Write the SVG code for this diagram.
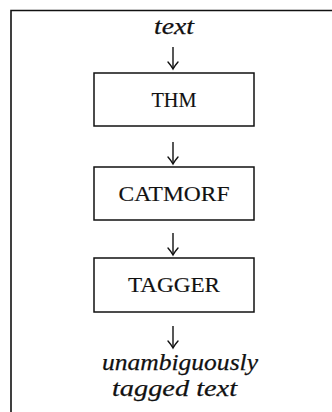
<svg xmlns="http://www.w3.org/2000/svg" width="332" height="412" viewBox="0 0 332 412">
  <style>
    .frame { fill: none; stroke: #111; stroke-width: 1.6; }
    .box { fill: #fff; stroke: #111; stroke-width: 1.5; }
    .label { font-family: "Liberation Serif", "Times New Roman", serif; font-size: 20px; fill: #111; stroke: #111; stroke-width: 0.15; text-anchor: middle; }
    .io { font-family: "Liberation Serif", "Times New Roman", serif; font-style: italic; font-size: 24px; fill: #111; stroke: #111; stroke-width: 0.25; text-anchor: middle; }
    .shaft { fill: none; stroke: #111; stroke-width: 1.4; }
    .head { fill: none; stroke: #111; stroke-width: 1.4; stroke-linecap: round; }
  </style>
  <defs>
    <!-- downward arrow with curved barbs, tip at the origin -->
    <path id="tip" class="head" d="M -5 -7 Q -1.5 -3 0 0 Q 1.5 -3 5 -7"/>
  </defs>

  <!-- surrounding frame: left and top rules -->
  <path class="frame" d="M 11 412 V 10.5 H 332"/>

  <g id="input">
    <text class="io" x="174" y="34" textLength="40" lengthAdjust="spacingAndGlyphs">text</text>
  </g>

  <g id="thm">
    <rect class="box" x="94" y="73" width="160" height="53"/>
    <text class="label" x="174" y="106.5" textLength="45" lengthAdjust="spacingAndGlyphs">THM</text>
  </g>

  <g id="catmorf">
    <rect class="box" x="94" y="167" width="160" height="53"/>
    <text class="label" x="174" y="200.5" textLength="111" lengthAdjust="spacingAndGlyphs">CATMORF</text>
  </g>

  <g id="tagger">
    <rect class="box" x="94" y="258" width="160" height="54"/>
    <text class="label" x="174" y="292" textLength="92" lengthAdjust="spacingAndGlyphs">TAGGER</text>
  </g>

  <g id="output">
    <text class="io" x="180" y="370" textLength="156" lengthAdjust="spacingAndGlyphs">unambiguously</text>
    <text class="io" x="174.5" y="396" textLength="125" lengthAdjust="spacingAndGlyphs">tagged text</text>
  </g>

  <g id="connectors">
    <line class="shaft" x1="173" y1="47" x2="173" y2="68.5"/>
    <use href="#tip" x="173" y="69"/>
    <line class="shaft" x1="173" y1="142" x2="173" y2="163.5"/>
    <use href="#tip" x="173" y="164"/>
    <line class="shaft" x1="173" y1="233" x2="173" y2="254.5"/>
    <use href="#tip" x="173" y="255"/>
    <line class="shaft" x1="173" y1="326" x2="173" y2="347.5"/>
    <use href="#tip" x="173" y="348"/>
  </g>
</svg>
